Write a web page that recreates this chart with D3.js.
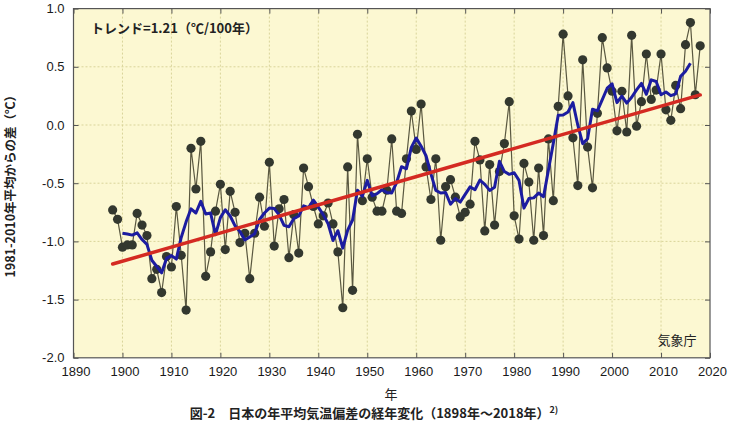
<!DOCTYPE html>
<html><head><meta charset="utf-8">
<script src="https://cdn.jsdelivr.net/npm/d3@7"></script>
<style>
html,body{margin:0;padding:0;background:#fff;}
text{font-family:"Liberation Sans","Noto Sans CJK JP",sans-serif;}
.jp{font-family:"Noto Sans CJK JP","Liberation Sans",sans-serif;}
</style></head>
<body>
<svg id="c" width="733" height="423"></svg>
<script>
const startYear = 1898;
const anomalies = [
-0.73,-0.81,-1.05,-1.03,-1.03,-0.76,-0.86,-0.95,-1.32,-1.24,
-1.44,-1.13,-1.22,-0.70,-1.12,-1.59,-0.20,-0.55,-0.14,-1.30,
-1.09,-0.74,-0.51,-1.07,-0.57,-0.75,-1.01,-0.93,-1.32,-0.93,
-0.62,-0.87,-0.32,-1.04,-0.72,-0.64,-1.14,-0.77,-1.10,-0.37,
-0.53,-0.70,-0.85,-0.78,-0.67,-0.85,-1.09,-1.57,-0.36,-1.42,
-0.08,-0.65,-0.29,-0.62,-0.74,-0.74,-0.56,-0.12,-0.74,-0.76,
-0.29,0.12,-0.21,0.18,-0.36,-0.64,-0.29,-0.99,-0.53,-0.47,
-0.62,-0.79,-0.75,-0.68,-0.14,-0.30,-0.91,-0.34,-0.86,-0.40,
-0.16,0.20,-0.78,-0.98,-0.33,-0.49,-0.99,-0.37,-0.95,-0.12,
-0.65,0.16,0.78,0.25,-0.11,-0.52,0.56,-0.19,-0.54,0.10,
0.75,0.49,0.29,-0.05,0.29,-0.06,0.77,-0.01,0.20,0.61,
0.22,0.30,0.61,0.13,0.04,0.34,0.14,0.69,0.88,0.26,0.68
];
const years = anomalies.map((_, i) => startYear + i);
const xTicks = [1890,1900,1910,1920,1930,1940,1950,1960,1970,1980,1990,2000,2010,2020];
const yTicks = [1.0,0.5,0.0,-0.5,-1.0,-1.5,-2.0];
const trendText = "トレンド=1.21（℃/100年）";
const yTitle = "1981-2010年平均からの差（℃）";
const xTitle = "年";
const caption = "図-2　日本の年平均気温偏差の経年変化（1898年～2018年）";
const source = "気象庁";

const data = years.map((y, i) => ({year: y, v: anomalies[i]}));
// 5-year centered running mean
const smooth = [];
for (let i = 2; i < data.length - 2; i++) {
  smooth.push({year: data[i].year, v: d3.mean(data.slice(i - 2, i + 3), d => d.v)});
}
// least-squares trend
const mx = d3.mean(data, d => d.year), my = d3.mean(data, d => d.v);
const slope = d3.sum(data, d => (d.year - mx) * (d.v - my)) / d3.sum(data, d => (d.year - mx) ** 2);
const trend = [startYear, years[years.length - 1]].map(y => ({year: y, v: my + slope * (y - mx)}));

const svg = d3.select("#c");
const L = 73.5, R = 710, T = 8.6, B = 357.8;
const x = d3.scaleLinear().domain([1890, 2020]).range([L, R]);
const y = d3.scaleLinear().domain([-2, 1]).range([B, T]);

svg.append("rect").attr("x", L).attr("y", T).attr("width", R - L).attr("height", B - T)
  .attr("fill", "#fcf8d2");

const grid = svg.append("g");
xTicks.slice(1, -1).forEach(t => grid.append("line").attr("x1", x(t)).attr("x2", x(t)).attr("y1", T).attr("y2", B)
  .attr("stroke", "#d9d49a").attr("stroke-width", 1).attr("stroke-dasharray", "2,2"));
yTicks.slice(1, -1).forEach(t => grid.append("line").attr("x1", L).attr("x2", R).attr("y1", y(t)).attr("y2", y(t))
  .attr("stroke", "#d9d49a").attr("stroke-width", 1).attr("stroke-dasharray", "2,2"));

// axes with inward ticks
const fmt = v => d3.format(".1f")(v).replace("\u2212", "-");
const ax = svg.append("g");
ax.append("g").attr("transform", `translate(0,${B})`)
  .call(d3.axisBottom(x).tickValues(xTicks).tickFormat(d3.format("d")).tickSize(-5).tickPadding(9))
  .call(g => { g.select(".domain").remove(); g.selectAll("text").attr("font-size", 13).attr("fill", "#1a1a1a").attr("dx", 2); });
ax.append("g").attr("transform", `translate(0,${T})`)
  .call(d3.axisTop(x).tickValues(xTicks).tickFormat("").tickSize(-5))
  .call(g => g.select(".domain").remove());
ax.append("g").attr("transform", `translate(${L},0)`)
  .call(d3.axisLeft(y).tickValues(yTicks).tickFormat(fmt).tickSize(-5).tickPadding(9))
  .call(g => { g.select(".domain").remove(); g.selectAll("text").attr("font-size", 13).attr("fill", "#1a1a1a"); });
ax.append("g").attr("transform", `translate(${R},0)`)
  .call(d3.axisRight(y).tickValues(yTicks).tickFormat("").tickSize(-5))
  .call(g => g.select(".domain").remove());
ax.selectAll(".tick line").attr("stroke", "#555");

// data line and points
const line = d3.line().x(d => x(d.year)).y(d => y(d.v));
svg.append("path").datum(data).attr("d", line).attr("fill", "none")
  .attr("stroke", "#5a5840").attr("stroke-width", 1.2);
svg.append("g").selectAll("circle").data(data).join("circle")
  .attr("cx", d => x(d.year)).attr("cy", d => y(d.v)).attr("r", 4.6).attr("fill", "#33382f");
svg.append("path").datum(smooth).attr("d", line).attr("fill", "none")
  .attr("stroke", "#1c1ca0").attr("stroke-width", 3).attr("stroke-linejoin", "round");
svg.append("path").datum(trend).attr("d", line).attr("fill", "none")
  .attr("stroke", "#d42a22").attr("stroke-width", 3.5).attr("stroke-linecap", "round");

svg.append("rect").attr("x", L).attr("y", T).attr("width", R - L).attr("height", B - T)
  .attr("fill", "none").attr("stroke", "#555").attr("stroke-width", 1.2);

svg.append("text").attr("class", "jp").attr("x", 91).attr("y", 33).attr("font-size", 13).attr("fill", "#222")
  .attr("font-weight", "bold").text(trendText);
svg.append("text").attr("class", "jp").attr("x", 677).attr("y", 345).attr("text-anchor", "middle")
  .attr("font-size", 13).attr("fill", "#222").text(source);
svg.append("text").attr("class", "jp").attr("x", 391).attr("y", 399).attr("text-anchor", "middle")
  .attr("font-size", 13).attr("fill", "#222").text(xTitle);
svg.append("text").attr("class", "jp").attr("transform", `translate(15,${(T + B) / 2}) rotate(-90)`)
  .attr("text-anchor", "middle").attr("font-size", 12.5).attr("fill", "#222").attr("font-weight", "bold").text(yTitle);
const cap = svg.append("text").attr("class", "jp").attr("x", 374).attr("y", 418).attr("text-anchor", "middle")
  .attr("font-size", 13).attr("fill", "#222").attr("font-weight", "bold");
cap.append("tspan").text(caption);
cap.append("tspan").attr("dy", -5).attr("font-size", 9).text("2)");
</script>
</body></html>
